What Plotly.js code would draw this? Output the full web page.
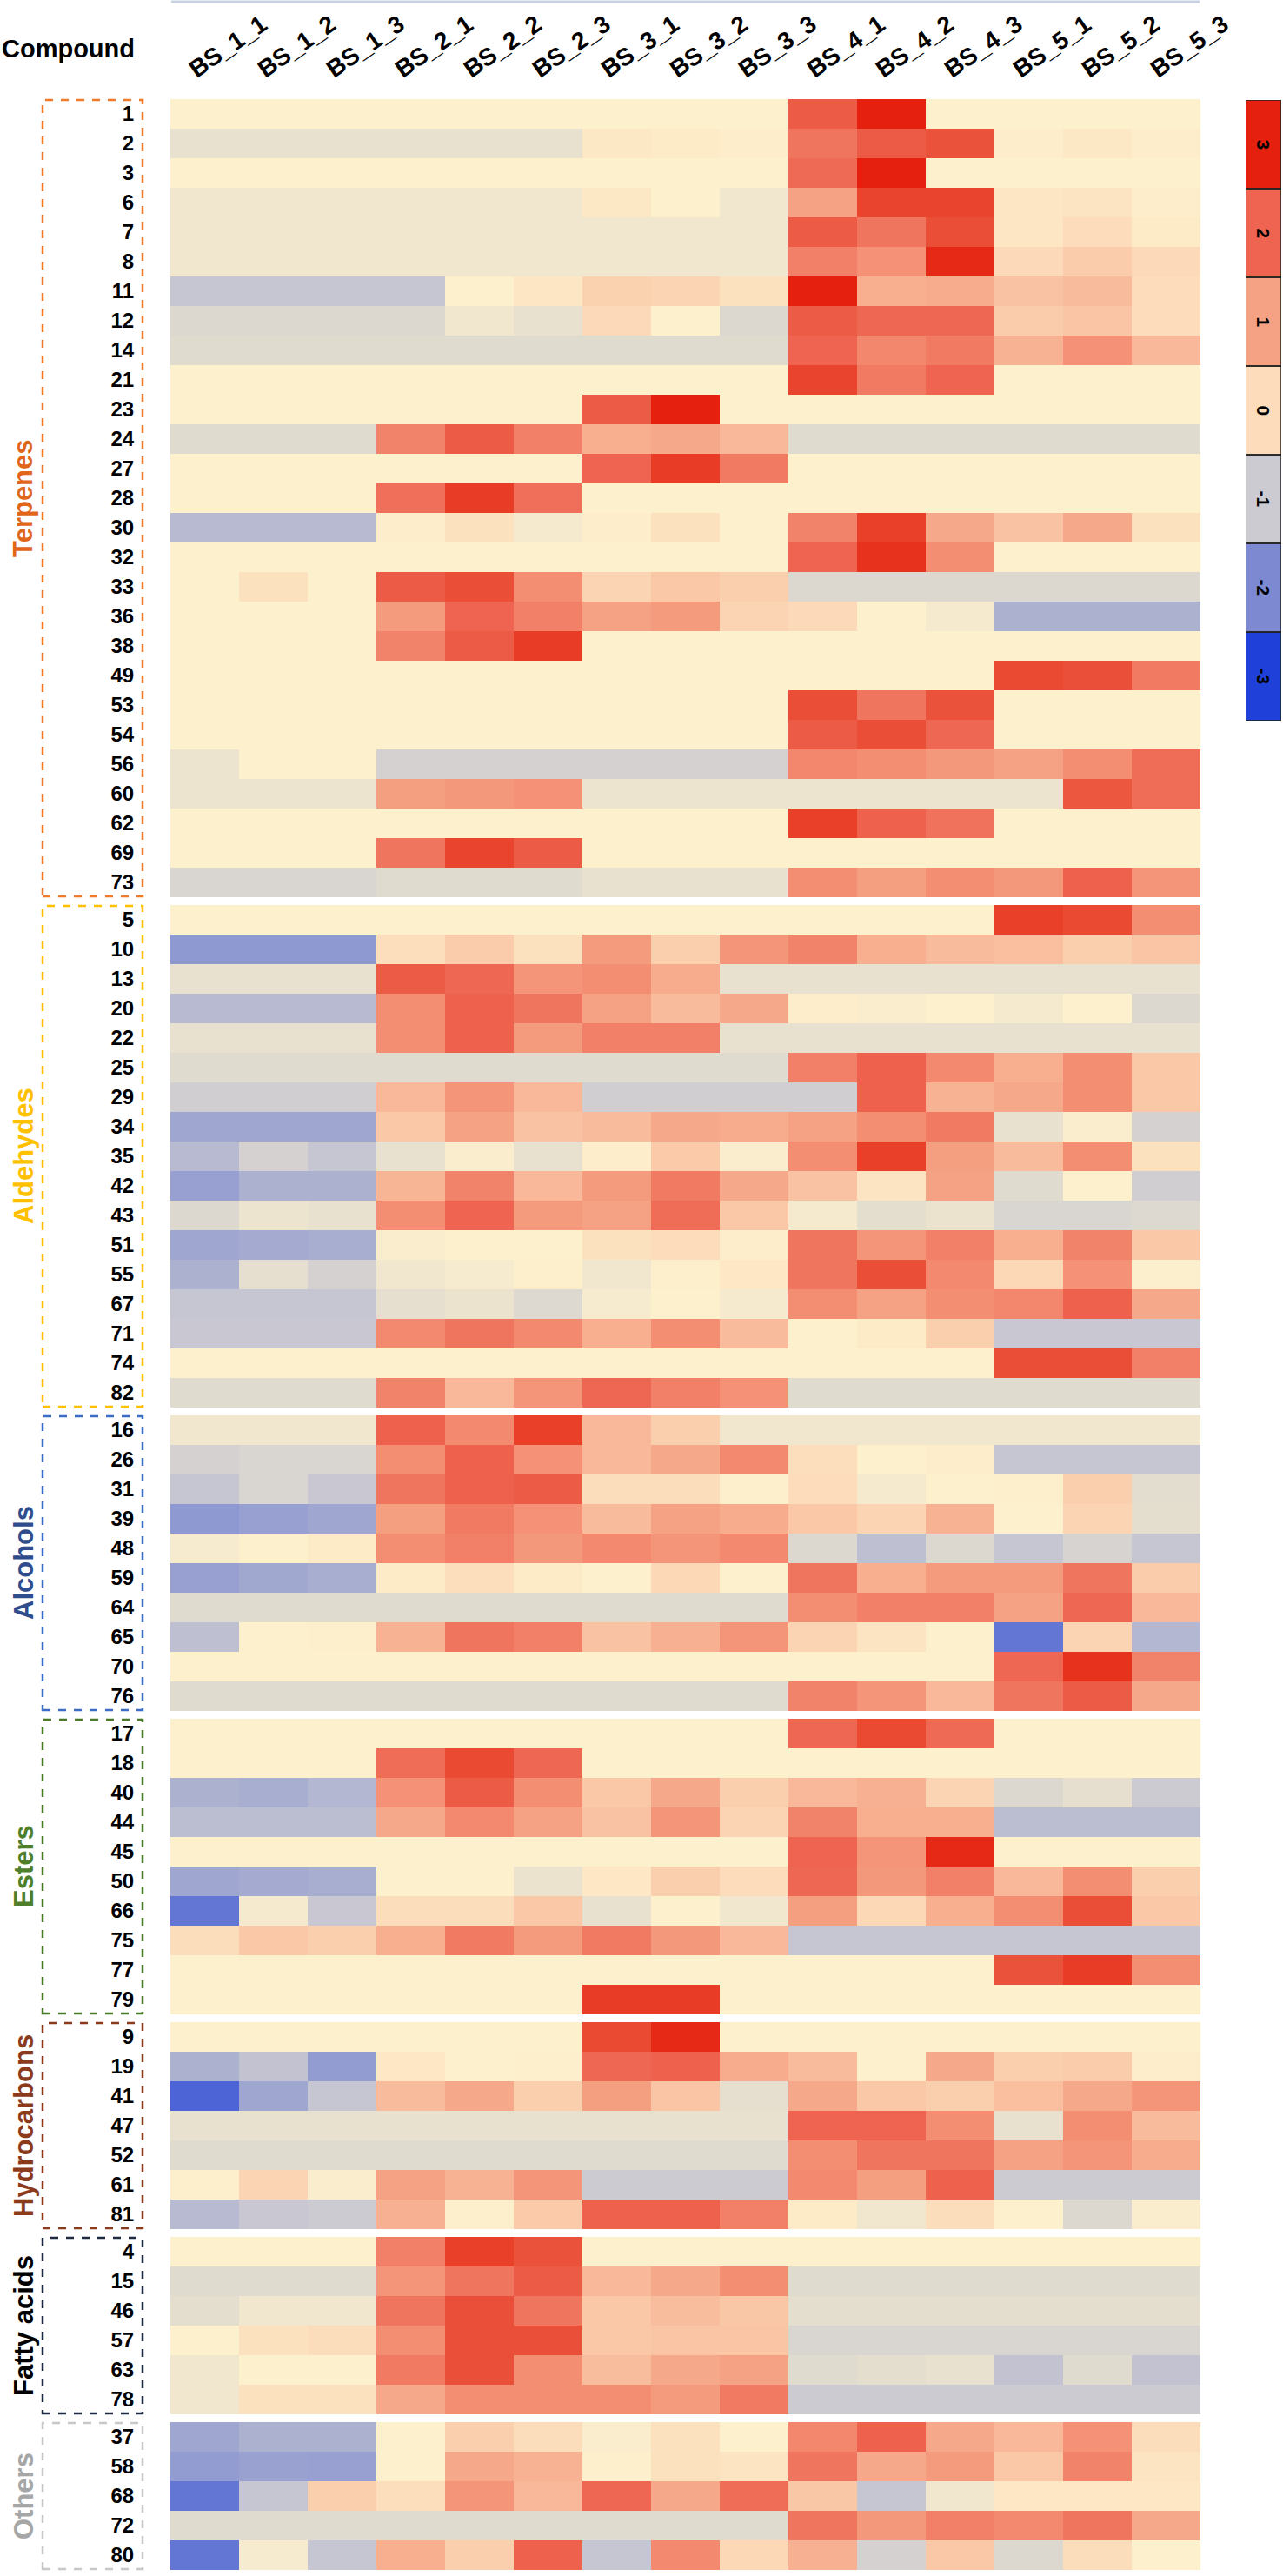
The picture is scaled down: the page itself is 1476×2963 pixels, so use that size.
<!DOCTYPE html>
<html><head><meta charset="utf-8">
<script src="https://cdn.plot.ly/plotly-3.0.1.min.js"></script>
<style>html,body{margin:0;padding:0;background:#fff}</style>
</head><body><div id="chart" style="width:1476px;height:2963px"></div>
<script>
const samples = ["BS_1_1","BS_1_2","BS_1_3","BS_2_1","BS_2_2","BS_2_3","BS_3_1","BS_3_2","BS_3_3","BS_4_1","BS_4_2","BS_4_3","BS_5_1","BS_5_2","BS_5_3"];
const groupNames = ["Terpenes","Aldehydes","Alcohols","Esters","Hydrocarbons","Fatty acids","Others"];
const legendValues = [3,2,1,0,-1,-2,-3];

const terpeneIds = ["1","2","3","6","7","8","11","12","14","21","23","24","27","28","30","32","33","36","38","49","53","54","56","60","62","69","73"];
const terpeneZ = [
[-0.4,-0.4,-0.4,-0.4,-0.4,-0.4,-0.4,-0.4,-0.4,2.2,3.0,-0.4,-0.4,-0.4,-0.4],
[-0.65,-0.65,-0.65,-0.65,-0.65,-0.65,-0.25,-0.3,-0.35,1.7,2.2,2.4,-0.35,-0.25,-0.35],
[-0.4,-0.4,-0.4,-0.4,-0.4,-0.4,-0.4,-0.4,-0.4,1.9,3.0,-0.4,-0.4,-0.4,-0.4],
[-0.55,-0.55,-0.55,-0.55,-0.55,-0.55,-0.25,-0.4,-0.55,1.0,2.6,2.6,-0.2,-0.15,-0.35],
[-0.55,-0.55,-0.55,-0.55,-0.55,-0.55,-0.55,-0.55,-0.55,2.2,1.7,2.5,-0.2,0.0,-0.3],
[-0.55,-0.55,-0.55,-0.55,-0.55,-0.55,-0.55,-0.55,-0.55,1.5,1.25,2.9,0.05,0.3,0.05],
[-1.1,-1.1,-1.1,-1.1,-0.4,-0.2,0.2,0.15,-0.1,3.0,0.8,0.85,0.5,0.6,0.0],
[-0.8,-0.8,-0.8,-0.8,-0.55,-0.65,0.05,-0.4,-0.8,2.2,1.95,1.95,0.3,0.45,0.0],
[-0.75,-0.75,-0.75,-0.75,-0.75,-0.75,-0.75,-0.75,-0.75,2.0,1.4,1.6,0.75,1.25,0.65],
[-0.4,-0.4,-0.4,-0.4,-0.4,-0.4,-0.4,-0.4,-0.4,2.6,1.6,2.0,-0.4,-0.4,-0.4],
[-0.4,-0.4,-0.4,-0.4,-0.4,-0.4,2.2,3.0,-0.4,-0.4,-0.4,-0.4,-0.4,-0.4,-0.4],
[-0.75,-0.75,-0.75,1.45,2.2,1.5,0.8,0.9,0.65,-0.75,-0.75,-0.75,-0.75,-0.75,-0.75],
[-0.4,-0.4,-0.4,-0.4,-0.4,-0.4,2.0,2.7,1.6,-0.4,-0.4,-0.4,-0.4,-0.4,-0.4],
[-0.4,-0.4,-0.4,1.8,2.7,1.8,-0.4,-0.4,-0.4,-0.4,-0.4,-0.4,-0.4,-0.4,-0.4],
[-1.3,-1.3,-1.3,-0.35,-0.1,-0.5,-0.35,-0.1,-0.4,1.45,2.65,0.9,0.5,0.9,-0.1],
[-0.4,-0.4,-0.4,-0.4,-0.4,-0.4,-0.4,-0.4,-0.4,2.0,2.8,1.3,-0.4,-0.4,-0.4],
[-0.4,-0.1,-0.4,2.2,2.5,1.3,0.15,0.4,0.25,-0.8,-0.8,-0.8,-0.8,-0.8,-0.8],
[-0.4,-0.4,-0.4,1.1,2.0,1.5,1.0,1.1,0.15,0.05,-0.4,-0.5,-1.45,-1.45,-1.45],
[-0.4,-0.4,-0.4,1.45,2.2,2.7,-0.4,-0.4,-0.4,-0.4,-0.4,-0.4,-0.4,-0.4,-0.4],
[-0.4,-0.4,-0.4,-0.4,-0.4,-0.4,-0.4,-0.4,-0.4,-0.4,-0.4,-0.4,2.55,2.45,1.6],
[-0.4,-0.4,-0.4,-0.4,-0.4,-0.4,-0.4,-0.4,-0.4,2.5,1.7,2.4,-0.4,-0.4,-0.4],
[-0.4,-0.4,-0.4,-0.4,-0.4,-0.4,-0.4,-0.4,-0.4,2.2,2.5,1.95,-0.4,-0.4,-0.4],
[-0.6,-0.4,-0.4,-0.9,-0.9,-0.9,-0.9,-0.9,-0.9,1.4,1.3,1.15,1.0,1.3,1.85],
[-0.6,-0.6,-0.6,1.05,1.15,1.25,-0.6,-0.6,-0.6,-0.6,-0.6,-0.6,-0.6,2.3,1.85],
[-0.4,-0.4,-0.4,-0.4,-0.4,-0.4,-0.4,-0.4,-0.4,2.65,2.05,1.75,-0.4,-0.4,-0.4],
[-0.4,-0.4,-0.4,1.7,2.6,2.2,-0.4,-0.4,-0.4,-0.4,-0.4,-0.4,-0.4,-0.4,-0.4],
[-0.85,-0.85,-0.85,-0.75,-0.75,-0.75,-0.65,-0.65,-0.65,1.3,1.05,1.3,1.15,2.05,1.2]
];

const aldehydeIds = ["5","10","13","20","22","25","29","34","35","42","43","51","55","67","71","74","82"];
const aldehydeZ = [
[-0.4,-0.4,-0.4,-0.4,-0.4,-0.4,-0.4,-0.4,-0.4,-0.4,-0.4,-0.4,2.65,2.55,1.3],
[-1.8,-1.8,-1.8,-0.05,0.3,-0.1,1.1,0.25,1.2,1.45,0.8,0.6,0.55,0.25,0.45],
[-0.65,-0.65,-0.65,2.2,1.95,1.2,1.3,0.85,-0.65,-0.65,-0.65,-0.65,-0.65,-0.65,-0.65],
[-1.3,-1.3,-1.3,1.3,2.05,1.7,1.0,0.6,0.9,-0.35,-0.45,-0.4,-0.5,-0.4,-0.8],
[-0.65,-0.65,-0.65,1.3,2.05,1.1,1.5,1.5,-0.65,-0.65,-0.65,-0.65,-0.65,-0.65,-0.65],
[-0.75,-0.75,-0.75,-0.75,-0.75,-0.75,-0.75,-0.75,-0.75,1.5,2.05,1.35,0.8,1.3,0.4],
[-0.95,-0.95,-0.95,0.65,1.2,0.65,-0.95,-0.95,-0.95,-0.95,2.05,0.75,0.9,1.3,0.4],
[-1.6,-1.6,-1.6,0.4,1.0,0.5,0.6,0.9,0.85,1.0,1.3,1.6,-0.65,-0.45,-0.9],
[-1.3,-0.9,-1.1,-0.65,-0.45,-0.65,-0.35,0.35,-0.45,1.3,2.65,1.05,0.6,1.3,-0.1],
[-1.7,-1.45,-1.45,0.7,1.45,0.65,1.1,1.6,0.9,0.5,-0.15,1.0,-0.75,-0.4,-0.95],
[-0.8,-0.6,-0.65,1.3,2.0,1.1,1.0,1.85,0.4,-0.5,-0.7,-0.62,-0.85,-0.85,-0.78],
[-1.6,-1.55,-1.5,-0.45,-0.4,-0.4,-0.1,0.0,-0.35,1.7,1.2,1.5,0.8,1.45,0.4],
[-1.45,-0.68,-0.9,-0.55,-0.48,-0.38,-0.55,-0.38,-0.22,1.7,2.5,1.35,0.08,1.25,-0.42],
[-1.1,-1.1,-1.1,-0.68,-0.62,-0.78,-0.48,-0.4,-0.5,1.3,1.0,1.3,1.4,2.05,0.9],
[-1.05,-1.05,-1.05,1.35,1.7,1.35,0.8,1.3,0.6,-0.4,-0.3,0.25,-1.05,-1.05,-1.05],
[-0.4,-0.4,-0.4,-0.4,-0.4,-0.4,-0.4,-0.4,-0.4,-0.4,-0.4,-0.4,2.5,2.5,1.5],
[-0.75,-0.75,-0.75,1.45,0.65,1.2,1.95,1.5,1.25,-0.75,-0.75,-0.75,-0.75,-0.75,-0.75]
];

const alcoholIds = ["16","26","31","39","48","59","64","65","70","76"];
const alcoholZ = [
[-0.55,-0.55,-0.55,2.05,1.35,2.65,0.65,0.25,-0.55,-0.55,-0.55,-0.55,-0.55,-0.55,-0.55],
[-0.9,-0.85,-0.85,1.3,2.05,1.25,0.65,0.9,1.35,-0.05,-0.4,-0.35,-1.1,-1.1,-1.1],
[-1.1,-0.85,-1.05,1.7,2.05,2.2,-0.02,-0.02,-0.38,0.0,-0.5,-0.4,-0.38,0.25,-0.72],
[-1.8,-1.7,-1.6,1.05,1.6,1.25,0.6,1.0,0.85,0.4,0.15,0.75,-0.4,0.15,-0.7],
[-0.48,-0.4,-0.3,1.3,1.5,1.15,1.35,1.2,1.35,-0.8,-1.2,-0.8,-1.1,-0.88,-1.1],
[-1.7,-1.58,-1.5,-0.3,-0.05,-0.3,-0.4,0.08,-0.4,1.7,0.8,1.1,1.1,1.7,0.3],
[-0.75,-0.75,-0.75,-0.75,-0.75,-0.75,-0.75,-0.75,-0.75,1.3,1.5,1.5,1.0,1.95,0.65],
[-1.2,-0.4,-0.38,0.75,1.7,1.5,0.5,0.78,1.2,0.15,-0.15,-0.4,-2.3,0.15,-1.35],
[-0.4,-0.4,-0.4,-0.4,-0.4,-0.4,-0.4,-0.4,-0.4,-0.4,-0.4,-0.4,1.95,2.8,1.45],
[-0.75,-0.75,-0.75,-0.75,-0.75,-0.75,-0.75,-0.75,-0.75,1.45,1.2,0.65,1.7,2.2,0.9]
];

const esterIds = ["17","18","40","44","45","50","66","75","77","79"];
const esterZ = [
[-0.4,-0.4,-0.4,-0.4,-0.4,-0.4,-0.4,-0.4,-0.4,1.95,2.55,1.9,-0.4,-0.4,-0.4],
[-0.4,-0.4,-0.4,1.85,2.55,1.95,-0.4,-0.4,-0.4,-0.4,-0.4,-0.4,-0.4,-0.4,-0.4],
[-1.45,-1.5,-1.35,1.25,2.2,1.3,0.4,0.9,0.25,0.65,0.78,0.15,-0.8,-0.68,-1.0],
[-1.25,-1.25,-1.25,0.9,1.35,1.0,0.5,1.2,0.15,1.45,0.8,0.8,-1.25,-1.25,-1.25],
[-0.4,-0.4,-0.4,-0.4,-0.4,-0.4,-0.4,-0.4,-0.4,2.0,1.2,2.9,-0.4,-0.4,-0.4],
[-1.6,-1.55,-1.5,-0.4,-0.4,-0.62,-0.22,0.25,0.0,1.95,1.15,1.5,0.65,1.3,0.25],
[-2.3,-0.5,-1.05,-0.02,-0.02,0.4,-0.65,-0.4,-0.55,1.05,0.08,0.8,1.3,2.5,0.4],
[-0.02,0.4,0.25,0.8,1.6,1.1,1.6,1.15,0.65,-1.1,-1.1,-1.1,-1.1,-1.1,-1.1],
[-0.4,-0.4,-0.4,-0.4,-0.4,-0.4,-0.4,-0.4,-0.4,-0.4,-0.4,-0.4,2.4,2.7,1.3],
[-0.4,-0.4,-0.4,-0.4,-0.4,-0.4,2.7,2.7,-0.4,-0.4,-0.4,-0.4,-0.4,-0.4,-0.4]
];

const hydrocarbonIds = ["9","19","41","47","52","61","81"];
const hydrocarbonZ = [
[-0.4,-0.4,-0.4,-0.4,-0.4,-0.4,2.55,2.9,-0.4,-0.4,-0.4,-0.4,-0.4,-0.4,-0.4],
[-1.45,-1.15,-1.75,-0.22,-0.4,-0.38,1.95,2.05,0.85,0.6,-0.4,0.9,0.25,0.3,-0.35],
[-2.55,-1.6,-1.1,0.6,0.9,0.25,1.05,0.45,-0.68,0.9,0.4,0.25,0.55,0.9,1.2],
[-0.65,-0.65,-0.65,-0.65,-0.65,-0.65,-0.65,-0.65,-0.65,2.0,2.0,1.3,-0.65,1.3,0.6],
[-0.75,-0.75,-0.75,-0.75,-0.75,-0.75,-0.75,-0.75,-0.75,1.3,1.7,1.7,1.0,1.2,0.85],
[-0.38,0.15,-0.45,1.0,0.75,1.2,-1.0,-1.0,-1.0,1.35,1.05,2.05,-1.0,-1.0,-1.0],
[-1.3,-1.05,-1.0,0.78,-0.38,0.35,2.05,2.05,1.5,-0.3,-0.55,-0.02,-0.4,-0.8,-0.45]
];

const fattyAcidIds = ["4","15","46","57","63","78"];
const fattyAcidZ = [
[-0.4,-0.4,-0.4,1.5,2.65,2.4,-0.4,-0.4,-0.4,-0.4,-0.4,-0.4,-0.4,-0.4,-0.4],
[-0.75,-0.75,-0.75,1.2,1.7,2.2,0.65,0.9,1.3,-0.75,-0.75,-0.75,-0.75,-0.75,-0.75],
[-0.7,-0.55,-0.55,1.7,2.45,1.7,0.4,0.58,0.42,-0.7,-0.7,-0.7,-0.7,-0.7,-0.7],
[-0.4,-0.1,-0.03,1.3,2.45,2.45,0.4,0.45,0.45,-0.85,-0.85,-0.85,-0.85,-0.85,-0.85],
[-0.55,-0.4,-0.4,1.6,2.45,1.3,0.58,0.9,1.0,-0.75,-0.7,-0.65,-1.15,-0.75,-1.15],
[-0.55,-0.1,-0.1,0.9,1.3,1.3,1.3,1.1,1.6,-1.0,-1.0,-1.0,-1.0,-1.0,-1.0]
];

const otherIds = ["37","58","68","72","80"];
const otherZ = [
[-1.6,-1.45,-1.45,-0.4,0.25,-0.02,-0.45,-0.1,-0.4,1.4,2.05,0.9,0.65,1.25,-0.02],
[-1.75,-1.68,-1.7,-0.4,0.9,0.75,-0.38,-0.1,-0.15,1.7,0.9,1.1,0.4,1.45,-0.15],
[-2.3,-1.1,0.25,-0.05,1.2,0.65,1.95,0.9,1.85,0.42,-1.1,-0.55,-0.22,-0.22,-0.22],
[-0.75,-0.75,-0.75,-0.75,-0.75,-0.75,-0.75,-0.75,-0.75,1.7,1.15,1.5,1.35,1.7,0.9],
[-2.3,-0.48,-1.1,0.8,0.25,2.05,-1.1,1.35,0.08,0.78,-0.9,0.4,-0.8,-0.03,-0.4]
];

const groupIds = [terpeneIds, aldehydeIds, alcoholIds, esterIds, hydrocarbonIds, fattyAcidIds, otherIds];
const groupZ = [terpeneZ, aldehydeZ, alcoholZ, esterZ, hydrocarbonZ, fattyAcidZ, otherZ];
const boxColors = ["#EE7A2A","#FFC000","#3C6CC4","#4A7A28","#8B3A1C","#1E2A40","#C8C8C8"];
const labelColors = ["#E2661A","#FFC000","#2F4C8C","#4F7F2A","#8B3A1C","#000000","#A6A6A6"];

const colorscale = [
  [0.0, "#1F41D9"], [0.0833, "#5168D6"], [0.1667, "#7D8AD2"], [0.25, "#A8AED0"],
  [0.3333, "#CDCBD2"], [0.3833, "#E4DECF"], [0.4333, "#FDF0CD"], [0.5, "#FCDCBA"],
  [0.5833, "#F9C2A2"], [0.6667, "#F5A284"], [0.75, "#F28068"], [0.8333, "#EE6450"],
  [0.9167, "#EA4E36"], [1.0, "#E5200E"]
];

const W = 1476, H = 2963;
const mL = 196, mR = 2, mT = 114, mB = 7;
const plotW = W - mL - mR, plotH = H - mT - mB;
const rowPx = 34, gapPx = 9;
const heatRightPx = 1381;
const xEnd = (heatRightPx - mL) / plotW;
const px2x = p => (p - mL) / plotW;
const py2y = p => 1 - (p - mT) / plotH;

const FONT = "Arial, 'Liberation Sans', sans-serif";
const traces = [];
const layout = {
  width: W, height: H,
  margin: {l: mL, r: mR, t: mT, b: mB},
  paper_bgcolor: "#ffffff", plot_bgcolor: "#ffffff",
  showlegend: false,
  font: {family: FONT, color: "#000"},
  xaxis: {
    domain: [0, xEnd], anchor: "y", side: "top", type: "category",
    range: [-0.5, samples.length - 0.5], autorange: false,
    showticklabels: false, ticks: "", showgrid: false, zeroline: false, showline: false,
    fixedrange: true
  },
  shapes: [], annotations: []
};

let off = 0;
groupIds.forEach((ids, i) => {
  const n = ids.length;
  const topPx = mT + off, botPx = mT + off + n * rowPx;
  const dom = [py2y(botPx), py2y(topPx)];
  const yName = i === 0 ? "y" : "y" + (i + 1);
  const axKey = i === 0 ? "yaxis" : "yaxis" + (i + 1);
  traces.push({
    type: "heatmap", x: samples, y: ids, z: groupZ[i],
    xaxis: "x", yaxis: yName, colorscale: colorscale, zmin: -3, zmax: 3,
    showscale: false, hoverongaps: false
  });
  layout[axKey] = {
    domain: dom, anchor: "x", type: "category",
    range: [n - 0.5, -0.5], autorange: false,
    ticks: "outside", ticklen: 36, tickcolor: "rgba(0,0,0,0)",
    tickfont: {size: 24, weight: 700, family: FONT, color: "#000"},
    showgrid: false, zeroline: false, showline: false, fixedrange: true
  };
  layout.shapes.push({
    type: "rect", xref: "paper", yref: "paper",
    x0: px2x(49), x1: px2x(164), y0: py2y(botPx - 1), y1: py2y(topPx + 1),
    line: {color: boxColors[i], width: 2.5, dash: "dash"}, fillcolor: "rgba(0,0,0,0)"
  });
  layout.annotations.push({
    xref: "paper", yref: "paper", x: px2x(27), y: (dom[0] + dom[1]) / 2,
    text: groupNames[i], showarrow: false, textangle: -90,
    xanchor: "center", yanchor: "middle",
    font: {size: 31, weight: 700, family: FONT, color: labelColors[i]}
  });
  off += n * rowPx + gapPx;
});

// sample labels (rotated, above columns)
samples.forEach(s => {
  layout.annotations.push({
    xref: "x", yref: "paper", x: s, y: py2y(97), xanchor: "left", yanchor: "bottom",
    xshift: -25, text: s, showarrow: false, textangle: -35, borderpad: 0,
    font: {size: 28, weight: 700, family: FONT, color: "#000"}
  });
});

// legend colour key
traces.push({
  type: "heatmap", x: [0], y: legendValues.map((v, i) => i),
  z: legendValues.map(v => [v]), xaxis: "x2", yaxis: "y8",
  colorscale: colorscale, zmin: -3, zmax: 3, showscale: false
});
layout.xaxis2 = {domain: [px2x(1433), px2x(1474)], anchor: "y8", visible: false, range: [-0.5, 0.5], fixedrange: true};
layout.yaxis8 = {domain: [py2y(115 + 7 * 102), py2y(115)], anchor: "x2", visible: false, range: [6.5, -0.5], fixedrange: true};
legendValues.forEach((v, i) => {
  layout.shapes.push({type: "rect", xref: "x2", yref: "y8", x0: -0.5, x1: 0.5, y0: i - 0.5, y1: i + 0.5,
    line: {color: "#222", width: 1.5}, fillcolor: "rgba(0,0,0,0)"});
  layout.annotations.push({xref: "x2", yref: "y8", x: 0, y: i, text: String(v), showarrow: false,
    textangle: 90, font: {size: 21, weight: 700, family: FONT, color: "#000"}});
});

// header
layout.annotations.push({
  xref: "paper", yref: "paper", x: px2x(0), y: py2y(56), xanchor: "left", yanchor: "middle",
  text: "Compound", showarrow: false, font: {size: 29, weight: 700, family: FONT, color: "#000"}
});
layout.shapes.push({type: "line", xref: "paper", yref: "paper", x0: px2x(197), x1: px2x(1380),
  y0: py2y(2), y1: py2y(2), line: {color: "#C9D1E2", width: 3}});

Plotly.newPlot("chart", traces, layout, {displayModeBar: false, staticPlot: true});
</script></body></html>
